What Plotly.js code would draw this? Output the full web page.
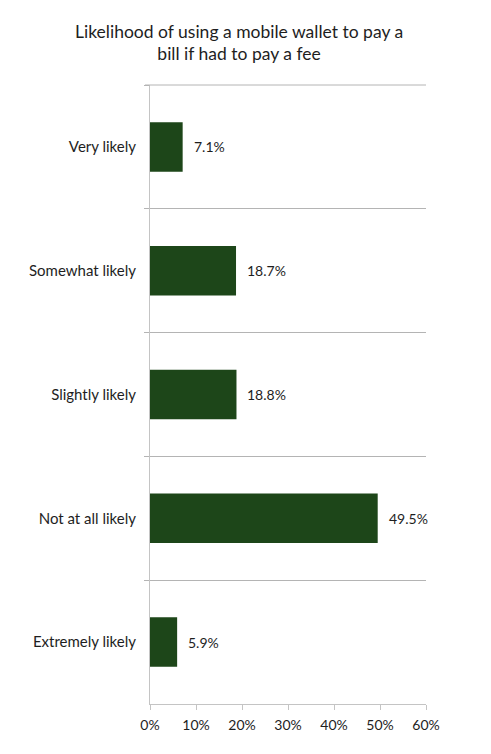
<!DOCTYPE html>
<html>
<head>
<meta charset="utf-8">
<script src="https://cdn.plot.ly/plotly-3.0.1.min.js"></script>
<style>
  html, body { margin: 0; padding: 0; background: #fff; }
  #chart { width: 491px; height: 754px; }
</style>
</head>
<body>
<div id="chart"></div>
<script>
// Likelihood of paying a bill by mobile wallet when a fee applies
const categories = ['Very likely', 'Somewhat likely', 'Slightly likely', 'Not at all likely', 'Extremely likely'];
const shares = [7.1, 18.7, 18.8, 49.5, 5.9];
const xTicks = [0, 10, 20, 30, 40, 50, 60];

const barColor = '#1d4619';
const gridColor = '#b4b4b4';
const fontFamily = 'Lato, "Open Sans", sans-serif';

const data = [{
  type: 'bar',
  orientation: 'h',
  x: shares,
  y: categories,
  marker: { color: barColor, line: { width: 0 } },
  hoverinfo: 'none',
}];

const layout = {
  width: 491,
  height: 754,
  paper_bgcolor: '#ffffff',
  plot_bgcolor: '#ffffff',
  font: { family: fontFamily, color: '#1e1e1e', size: 14 },
  margin: { t: 85, r: 65, b: 50, l: 150 },
  title: {
    text: 'Likelihood of using a mobile wallet to pay a<br>bill if had to pay a fee',
    font: { size: 17.5, color: '#1e1e1e' },
    x: 0.487, xanchor: 'center',
    yref: 'container', y: 0.95, yanchor: 'middle',
  },
  bargap: 0.6,
  showlegend: false,
  xaxis: {
    range: [0, 60],
    tickvals: xTicks,
    ticktext: xTicks.map(v => v + '%'),
    showgrid: false,
    zeroline: false,
    showline: true,
    linecolor: '#c4c4c4',
    ticks: 'outside',
    ticklen: 5,
    tickcolor: '#c4c4c4',
    ticklabelstandoff: 3,
    tickfont: { size: 14 },
    fixedrange: true,
  },
  yaxis: {
    autorange: 'reversed',
    type: 'category',
    tickson: 'boundaries',
    showgrid: true,
    gridcolor: gridColor,
    gridwidth: 1,
    showline: true,
    linecolor: '#c4c4c4',
    ticks: 'outside',
    ticklen: 5,
    tickcolor: gridColor,
    ticklabelstandoff: 10,
    tickfont: { size: 15 },
    fixedrange: true,
  },
  // top boundary line, drawn like the other category separators
  shapes: [{
    type: 'line', xref: 'paper', yref: 'paper',
    x0: -5 / 276, x1: 1, y0: 1, y1: 1,
    line: { color: gridColor, width: 1 },
  }],
  annotations: categories.map((c, i) => ({
    x: shares[i],
    y: c,
    xref: 'x', yref: 'y',
    text: shares[i].toFixed(1) + '%',
    showarrow: false,
    xanchor: 'left',
    xshift: 9,
    font: { size: 14, color: '#1e1e1e' },
  })),
};

Plotly.newPlot('chart', data, layout, { displayModeBar: false, staticPlot: true });
</script>
</body>
</html>
